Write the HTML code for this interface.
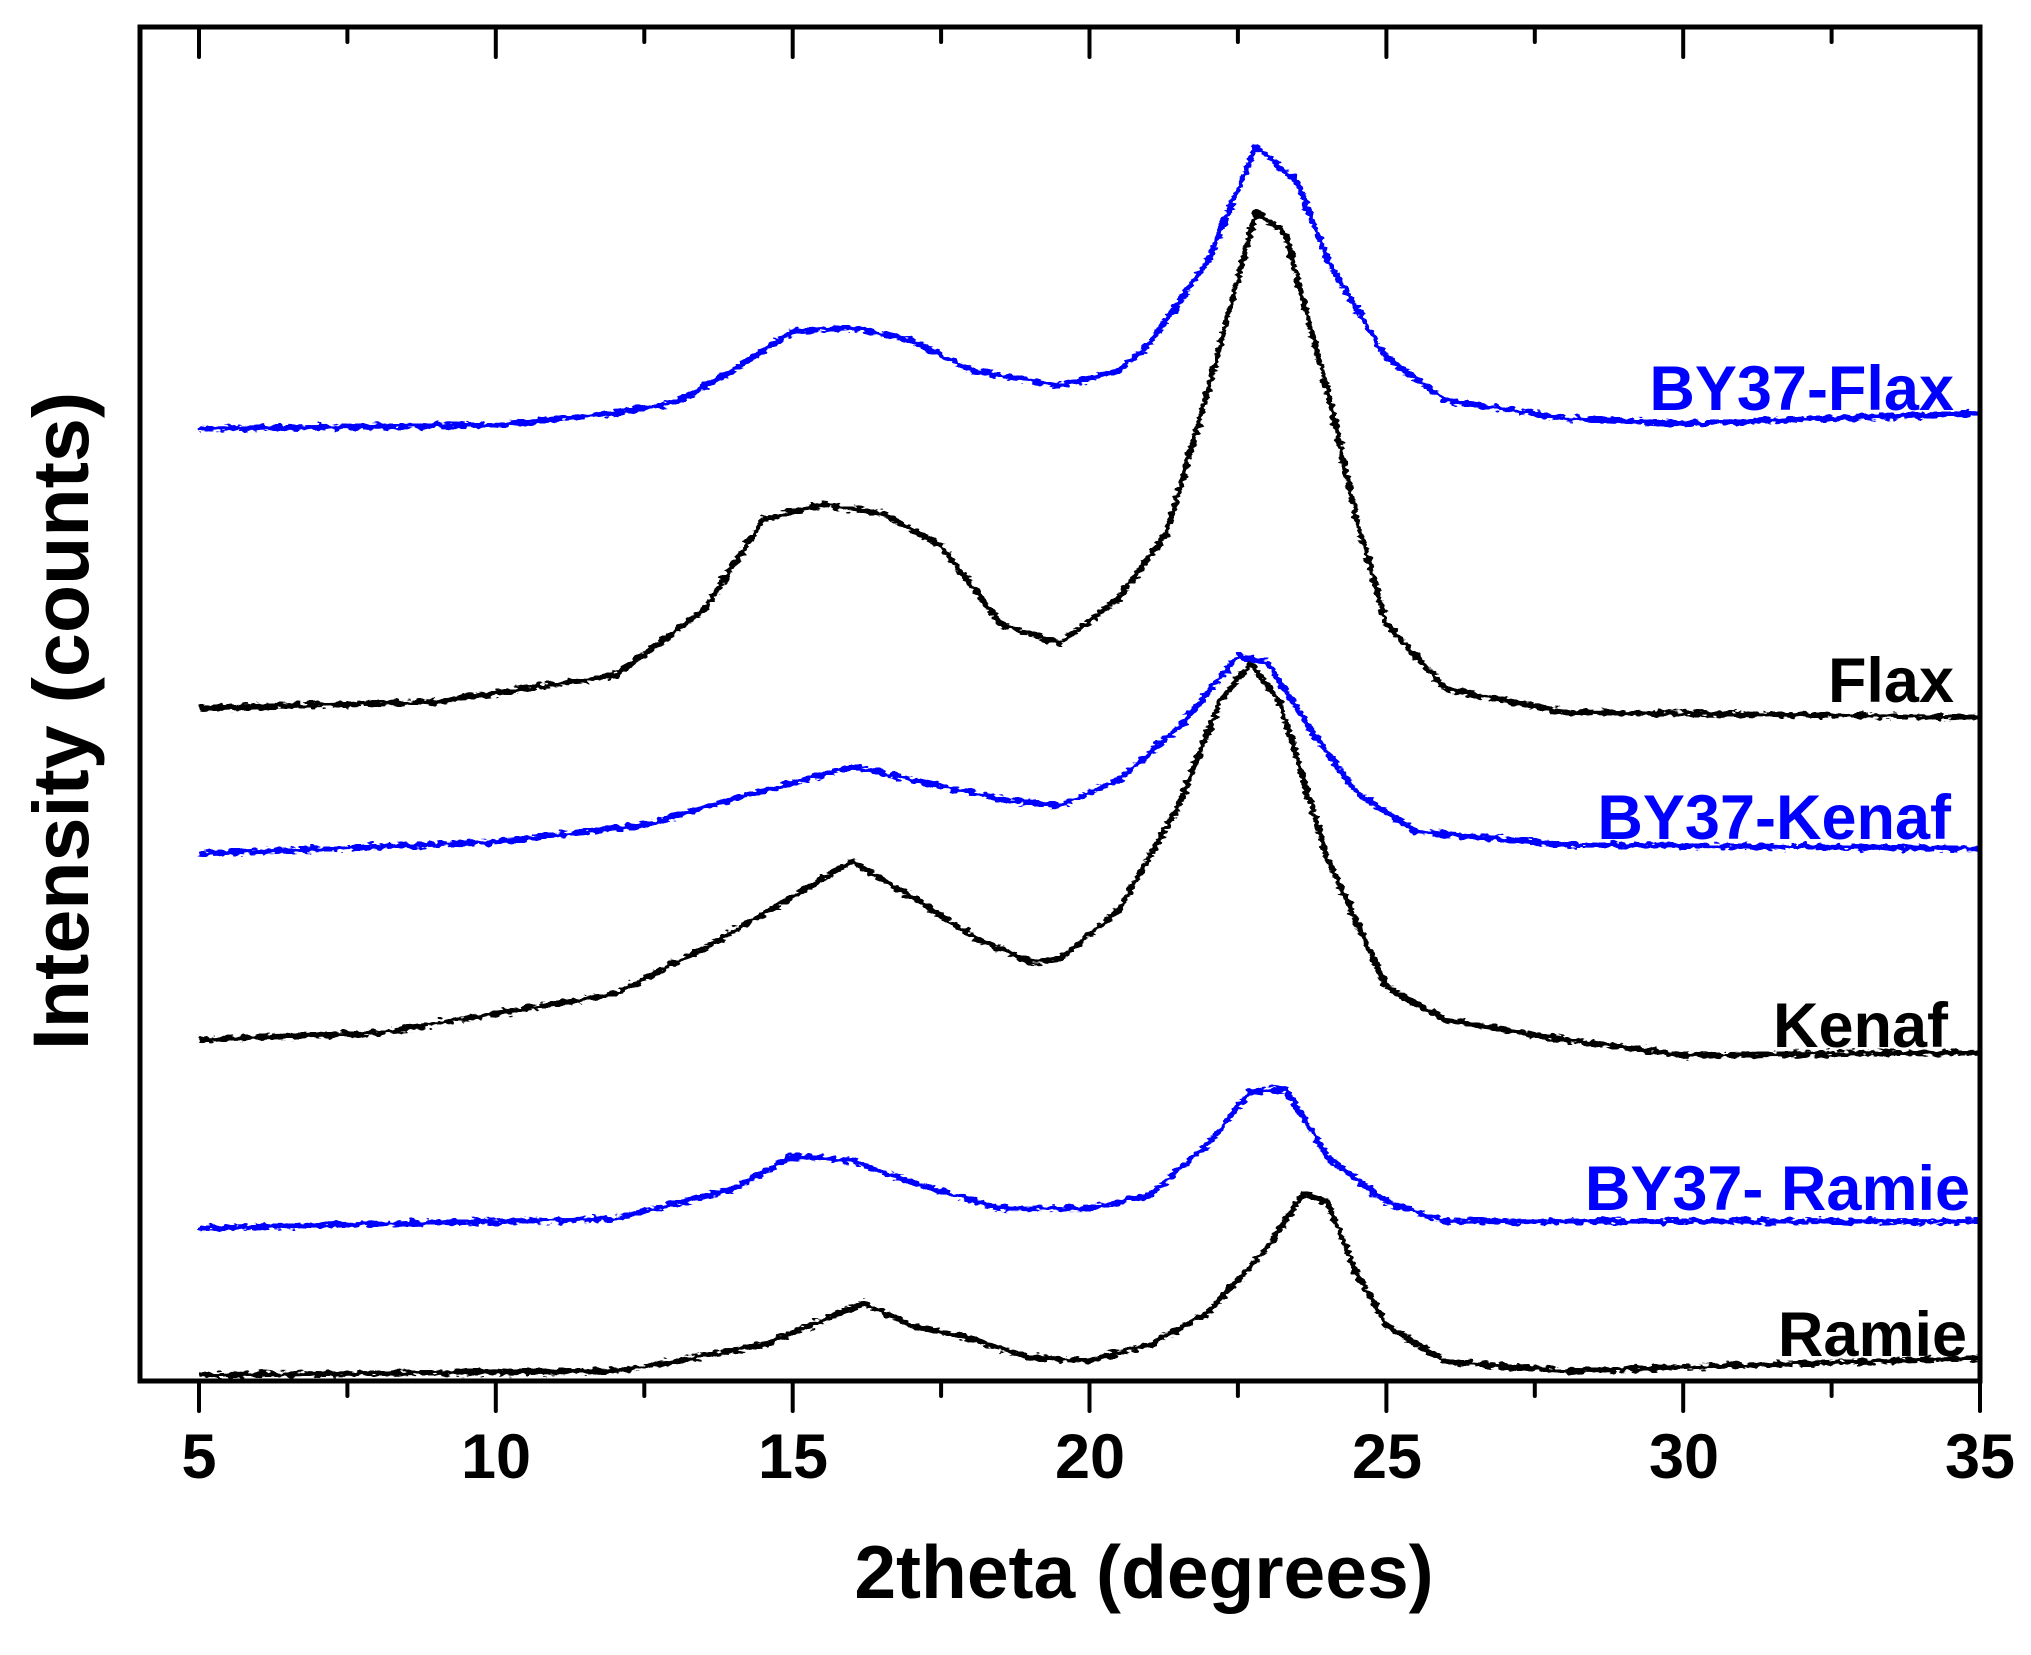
<!DOCTYPE html>
<html><head><meta charset="utf-8"><style>
html,body{margin:0;padding:0;background:#fff;}
svg{display:block;}
text{font-family:"Liberation Sans",Arial,sans-serif;font-weight:bold;}
</style></head><body>
<svg width="2031" height="1655" viewBox="0 0 2031 1655" xmlns="http://www.w3.org/2000/svg">
<defs>
<filter id="jit" x="0" y="0" width="2031" height="1655" filterUnits="userSpaceOnUse">
<feTurbulence type="fractalNoise" baseFrequency="0.12 0.25" numOctaves="2" seed="3" result="n"/>
<feDisplacementMap in="SourceGraphic" in2="n" scale="9" xChannelSelector="R" yChannelSelector="G"/>
</filter>
</defs>
<rect x="0" y="0" width="2031" height="1655" fill="#fff"/>
<g fill="none" stroke-width="5.5" stroke-linejoin="round" filter="url(#jit)">
<polyline stroke="#0000ff" points="199,428.8 495.9,424.9 614.6,413.2 674,402.8 733.3,370.3 792.7,331.3 852.1,327.4 911.4,340.4 970.8,370.3 1059.9,385.9 1119.2,370.3 1148.9,344.3 1208.3,259.9 1255.8,146.8 1297.4,181.9 1327.1,259.9 1386.4,357.3 1445.8,400.2 1564.5,418.4 1683.3,423.6 1980,413.2"/>
<polyline stroke="#000" points="199,708.2 436.5,701.7 614.6,675.7 703.6,610.7 763,519.8 822.4,504.2 881.8,513.3 941.1,545.7 1000.5,623.7 1059.9,643.2 1119.2,597.7 1166.7,532.8 1208.3,389.8 1255.8,211.8 1285.5,233.9 1327.1,389.8 1356.8,519.8 1386.4,623.7 1445.8,688.7 1564.5,712.1 1980,717.3"/>
<polyline stroke="#0000ff" points="199,853.7 495.9,842 644.3,825.1 733.3,799.1 852.1,766.6 911.4,779.6 1000.5,799.1 1059.9,805.6 1119.2,779.6 1178.6,727.7 1238,656.2 1267.7,662.7 1309.3,727.7 1356.8,792.6 1416.1,831.6 1564.5,844.6 1980,848.5"/>
<polyline stroke="#000" points="199,1039.5 377.1,1033 495.9,1013.5 614.6,994 703.6,948.6 792.7,896.6 852.1,861.5 911.4,896.6 970.8,935.6 1030.2,961.6 1059.9,959 1119.2,909.6 1178.6,805.6 1220.2,701.7 1249.9,662.7 1279.6,701.7 1327.1,857.6 1386.4,987.5 1445.8,1020 1564.5,1039.5 1683.3,1055.1 1980,1052.5"/>
<polyline stroke="#0000ff" points="199,1227.9 614.6,1218.8 733.3,1188.9 792.7,1156.5 852.1,1160.4 911.4,1182.5 1000.5,1208.4 1089.6,1208.4 1148.9,1195.4 1208.3,1143.5 1249.9,1091.5 1285.5,1088.9 1327.1,1156.5 1386.4,1201.9 1445.8,1221.4 1980,1221.4"/>
<polyline stroke="#000" points="199,1375 614.6,1370.9 674,1361.8 763,1344.9 864,1303.3 911.4,1325.4 970.8,1338.4 1030.2,1357.9 1089.6,1360.5 1148.9,1344.9 1208.3,1312.4 1267.7,1247.4 1303.3,1192.8 1327.1,1201.9 1356.8,1273.4 1386.4,1325.4 1445.8,1361.8 1564.5,1370.9 1980,1357.9"/>
</g>
<rect x="140" y="27" width="1840" height="1354" fill="none" stroke="#000" stroke-width="5"/>
<g stroke="#000" stroke-width="4" stroke-linecap="round">
<line x1="199" y1="27" x2="199" y2="57"/><line x1="347.4" y1="27" x2="347.4" y2="42"/><line x1="495.8" y1="27" x2="495.8" y2="57"/><line x1="644.3" y1="27" x2="644.3" y2="42"/><line x1="792.7" y1="27" x2="792.7" y2="57"/><line x1="941.1" y1="27" x2="941.1" y2="42"/><line x1="1089.5" y1="27" x2="1089.5" y2="57"/><line x1="1237.9" y1="27" x2="1237.9" y2="42"/><line x1="1386.4" y1="27" x2="1386.4" y2="57"/><line x1="1534.8" y1="27" x2="1534.8" y2="42"/><line x1="1683.2" y1="27" x2="1683.2" y2="57"/><line x1="1831.6" y1="27" x2="1831.6" y2="42"/>
<line x1="199" y1="1381" x2="199" y2="1411"/><line x1="347.4" y1="1381" x2="347.4" y2="1396"/><line x1="495.8" y1="1381" x2="495.8" y2="1411"/><line x1="644.3" y1="1381" x2="644.3" y2="1396"/><line x1="792.7" y1="1381" x2="792.7" y2="1411"/><line x1="941.1" y1="1381" x2="941.1" y2="1396"/><line x1="1089.5" y1="1381" x2="1089.5" y2="1411"/><line x1="1237.9" y1="1381" x2="1237.9" y2="1396"/><line x1="1386.4" y1="1381" x2="1386.4" y2="1411"/><line x1="1534.8" y1="1381" x2="1534.8" y2="1396"/><line x1="1683.2" y1="1381" x2="1683.2" y2="1411"/><line x1="1831.6" y1="1381" x2="1831.6" y2="1396"/><line x1="1980" y1="1381" x2="1980" y2="1411"/>
</g>
<g font-size="63" text-anchor="middle" fill="#000">
<text x="199" y="1478">5</text><text x="496" y="1478">10</text><text x="793" y="1478">15</text>
<text x="1090" y="1478">20</text><text x="1387" y="1478">25</text><text x="1684" y="1478">30</text><text x="1980" y="1478">35</text>
</g>
<text x="1144" y="1598" font-size="75" text-anchor="middle">2theta (degrees)</text>
<text transform="translate(88,721) rotate(-90)" font-size="79" text-anchor="middle">Intensity (counts)</text>
<g font-size="63" text-anchor="end">
<text x="1954" y="410" fill="#0000ff">BY37-Flax</text>
<text x="1954" y="702" fill="#000">Flax</text>
<text x="1951" y="839" fill="#0000ff">BY37-Kenaf</text>
<text x="1948" y="1047" fill="#000">Kenaf</text>
<text x="1970" y="1210" fill="#0000ff">BY37- Ramie</text>
<text x="1967" y="1356" fill="#000">Ramie</text>
</g>
</svg>
</body></html>
